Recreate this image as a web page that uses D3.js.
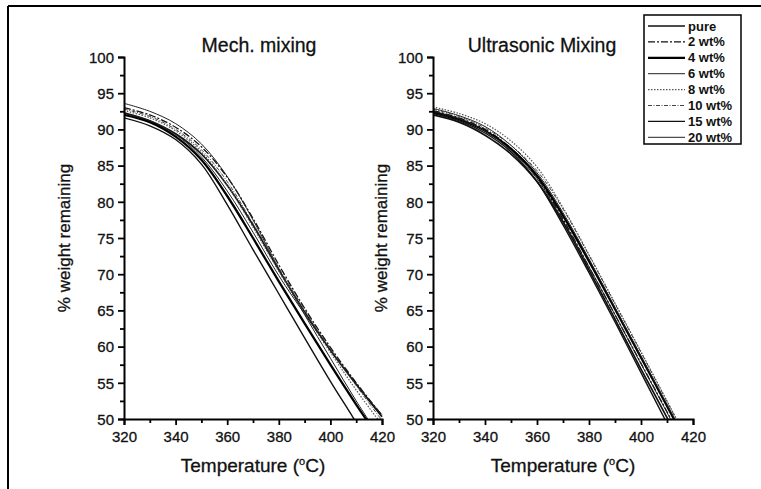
<!DOCTYPE html>
<html><head><meta charset="utf-8">
<script src="https://cdn.jsdelivr.net/npm/d3@7"></script>
<style>
body{margin:0;background:#fff;}
svg{display:block;}
text{font-family:"Liberation Sans",Arial,sans-serif;fill:#111;}
</style></head>
<body><svg id="c" width="761" height="489"></svg>
<script>
const temps = [320,330,340,350,360,370,380,390,400,410,420];
const seriesNames = ["pure","2 wt%","4 wt%","6 wt%","8 wt%","10 wt%","15 wt%","20 wt%"];
// Mechanical mixing
const mechPure = [92.3,91.2,89.4,86.6,82.3,76.8,70.6,64.8,59.5,54.8,50.3];
const mech2 = [93.0,92.0,90.3,87.6,83.4,77.7,71.3,65.3,59.9,55.0,50.5];
const mech4 = [92.0,91.0,89.0,85.8,80.8,75.0,69.0,63.2,57.5,52.0,46.8];
const mech6 = [93.6,92.5,90.8,88.0,83.5,77.5,70.8,64.4,58.4,52.5,47.0];
const mech8 = [92.6,91.6,89.8,86.9,82.3,76.5,70.4,64.6,59.2,54.0,49.2];
const mech10 = [92.8,91.8,90.0,87.2,82.8,77.0,70.9,65.1,59.7,54.6,49.8];
const mech15 = [91.6,90.5,88.6,85.2,79.6,73.4,67.3,61.2,55.2,49.5,43.5];
const mech20 = [92.2,91.2,89.3,86.2,81.5,75.8,69.8,64.5,59.5,54.8,50.6];
// Ultrasonic mixing
const ultraPure = [92.0,91.0,89.2,86.6,82.8,77.2,70.6,63.8,56.9,50.2,43.4];
const ultra2 = [92.6,91.6,90.0,87.4,83.4,77.6,71.0,64.4,57.7,51.0,44.2];
const ultra4 = [92.4,91.4,89.8,87.3,83.6,78.1,71.8,65.2,58.5,51.8,45.0];
const ultra6 = [92.9,91.9,90.4,87.8,84.0,78.5,72.1,65.4,58.7,52.0,45.2];
const ultra8 = [93.1,92.2,90.8,88.4,84.8,79.2,72.7,66.0,59.3,52.5,45.7];
const ultra10 = [92.8,91.8,90.2,87.8,84.3,79.0,72.6,65.9,59.2,52.4,45.6];
const ultra15 = [92.2,91.2,89.5,86.9,82.8,76.8,70.2,63.4,56.4,49.4,42.5];
const ultra20 = [92.5,91.5,89.8,87.1,83.2,77.4,71.0,64.4,57.6,50.9,44.0];
const xTicks = [320,340,360,380,400,420];
const yTicks = [50,55,60,65,70,75,80,85,90,95,100];

const mechSeries = [mechPure,mech2,mech4,mech6,mech8,mech10,mech15,mech20];
const ultraSeries = [ultraPure,ultra2,ultra4,ultra6,ultra8,ultra10,ultra15,ultra20];
const styles = [
  {w:1.7,d:null,c:"#111"},
  {w:1.3,d:"7,2,2,2",c:"#111"},
  {w:2.3,d:null,c:"#000"},
  {w:1.0,d:null,c:"#222"},
  {w:1.2,d:"1.5,1.5",c:"#555"},
  {w:1.0,d:"4,1.5,1,1.5",c:"#444"},
  {w:1.4,d:null,c:"#111"},
  {w:1.0,d:null,c:"#222"}
];

const svg = d3.select("#c");
// outer frame
svg.append("line").attr("x1",8).attr("x2",761).attr("y1",6).attr("y2",6).attr("stroke","#000").attr("stroke-width",2);
svg.append("line").attr("x1",8).attr("x2",8).attr("y1",6).attr("y2",489).attr("stroke","#000").attr("stroke-width",2);

const yTop = 57, yBot = 419;
function panel(x0, x1, series, title, titleX, ylabX, id){
  const x = d3.scaleLinear().domain([320,420]).range([x0,x1]);
  const y = d3.scaleLinear().domain([50,100]).range([yBot,yTop]);
  const g = svg.append("g");
  g.append("clipPath").attr("id",id).append("rect")
    .attr("x",x0).attr("y",yTop-5).attr("width",x1-x0+2).attr("height",yBot-yTop+5);
  const line = d3.line().x((d,i)=>x(temps[i])).y(d=>y(d)).curve(d3.curveCatmullRom.alpha(0.5));
  const lg = g.append("g").attr("clip-path",`url(#${id})`);
  series.forEach((s,i)=>{
    lg.append("path").attr("d",line(s)).attr("fill","none")
      .attr("stroke",styles[i].c).attr("stroke-width",styles[i].w)
      .attr("stroke-dasharray",styles[i].d);
  });
  // axes
  const yAx = d3.axisLeft(y).tickValues(yTicks).tickSize(6).tickPadding(4);
  const ya = g.append("g").attr("transform",`translate(${x0},0)`).call(yAx);
  const yMinor = d3.axisLeft(y).tickValues(d3.range(52.5,100,5)).tickSize(4).tickFormat("");
  g.append("g").attr("transform",`translate(${x0},0)`).call(yMinor).select(".domain").remove();
  const xAx = d3.axisBottom(x).tickValues(xTicks).tickSize(6).tickPadding(6);
  g.append("g").attr("transform",`translate(0,${yBot})`).call(xAx);
  const xMinor = d3.axisBottom(x).tickValues([330,350,370,390,410]).tickSize(4).tickFormat("");
  g.append("g").attr("transform",`translate(0,${yBot})`).call(xMinor).select(".domain").remove();
  g.selectAll(".domain").attr("stroke","#000").attr("stroke-width",2);
  g.selectAll(".tick line").attr("stroke","#000").attr("stroke-width",1.8);
  g.selectAll(".tick text").attr("font-size",15).attr("fill","#111")
    .attr("stroke","#111").attr("stroke-width",0.3)
    .style("font-family","'Liberation Sans',Arial,sans-serif");
  ya.selectAll(".tick text").attr("dy","0.35em");
  // titles
  g.append("text").attr("x",titleX).attr("y",52).attr("text-anchor","middle")
    .attr("font-size",19.5).attr("stroke","#111").attr("stroke-width",0.3).text(title);
  g.append("text").attr("transform",`translate(${ylabX},${(yTop+yBot)/2}) rotate(-90)`)
    .attr("text-anchor","middle").attr("dy","0.35em").attr("font-size",17)
    .attr("stroke","#111").attr("stroke-width",0.3).text("% weight remaining");
  const xt = g.append("text").attr("x",(x0+x1)/2).attr("y",472).attr("text-anchor","middle")
    .attr("font-size",19).attr("stroke","#111").attr("stroke-width",0.3);
  xt.append("tspan").text("Temperature (");
  xt.append("tspan").attr("font-size",11).attr("dy",-7).text("o");
  xt.append("tspan").attr("dy",7).text("C)");
}
panel(124,382,mechSeries,"Mech. mixing",259,64,"clipA");
panel(433,693,ultraSeries,"Ultrasonic Mixing",542,381,"clipB");

// legend
const lgX = 644, lgY = 15;
svg.append("rect").attr("x",lgX).attr("y",lgY).attr("width",97).attr("height",129)
  .attr("fill","#fff").attr("stroke","#000").attr("stroke-width",1.5);
seriesNames.forEach((n,i)=>{
  const yy = 26 + i*15.9;
  svg.append("line").attr("x1",648).attr("x2",685).attr("y1",yy).attr("y2",yy)
    .attr("stroke",styles[i].c).attr("stroke-width",styles[i].w).attr("stroke-dasharray",styles[i].d);
  svg.append("text").attr("x",688).attr("y",yy).attr("dy","0.35em").attr("font-size",13)
    .attr("font-weight","bold").text(n);
});
</script></body></html>
